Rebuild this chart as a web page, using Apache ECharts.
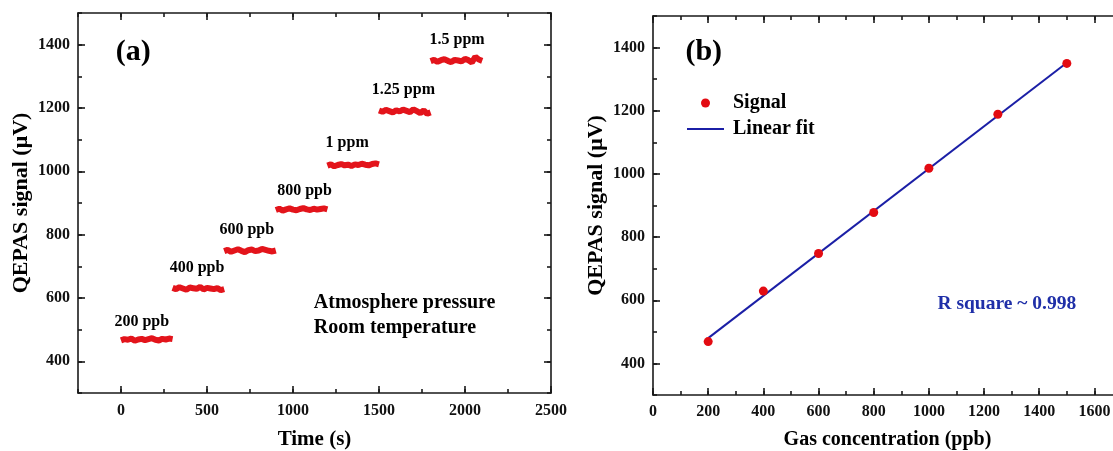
<!DOCTYPE html>
<html>
<head>
<meta charset="utf-8">
<script src="https://cdn.jsdelivr.net/npm/echarts@6/dist/echarts.min.js"></script>
<style>
html,body{margin:0;padding:0;background:#fff;}
#c{width:1113px;height:451px;}
</style>
</head>
<body>
<div id="c"></div>
<script>
// ---------- data ----------
const segStarts = [0, 300, 600, 900, 1200, 1500, 1800];
const sampleOffsets = [0, 20, 40, 60, 80, 100, 120, 140, 160, 180, 200, 220, 240, 260, 280, 300];
const seg200ppb = [466, 470, 468, 472, 465, 469, 471, 467, 470, 473, 468, 466, 471, 469, 472, 470];
const seg400ppb = [632, 628, 634, 630, 626, 633, 631, 629, 635, 627, 632, 630, 628, 631, 625, 628];
const seg600ppb = [748, 752, 746, 750, 754, 749, 745, 751, 753, 748, 750, 755, 752, 749, 747, 750];
const seg800ppb = [878, 882, 876, 880, 883, 879, 877, 881, 884, 880, 878, 882, 879, 881, 883, 880];
const seg1ppm   = [1018, 1022, 1016, 1020, 1023, 1019, 1021, 1017, 1022, 1020, 1024, 1021, 1019, 1023, 1025, 1022];
const seg125ppm = [1192, 1188, 1194, 1190, 1186, 1193, 1189, 1195, 1191, 1187, 1196, 1190, 1184, 1192, 1182, 1186];
const seg15ppm  = [1348, 1352, 1346, 1351, 1354, 1349, 1345, 1352, 1350, 1347, 1355, 1351, 1344, 1362, 1353, 1349];
const segValues = [seg200ppb, seg400ppb, seg600ppb, seg800ppb, seg1ppm, seg125ppm, seg15ppm];

const stepLabels = [[121, 526, '200 ppb'], [442, 694, '400 ppb'], [731, 815, '600 ppb'], [1067, 939, '800 ppb'],
                    [1315, 1089, '1 ppm'], [1642, 1258, '1.25 ppm'], [1954, 1414, '1.5 ppm']];
const condLabels = [[1121, 584, 'Atmosphere pressure'], [1121, 507, 'Room temperature']];

const concentration = [200, 400, 600, 800, 1000, 1250, 1500];
const signal = [469, 629, 748, 878, 1018, 1189, 1350];
const fitConc = [200, 1500];
const fitSignal = [480, 1352];

const xTicksA = [0, 500, 1000, 1500, 2000, 2500];
const yTicks = [400, 600, 800, 1000, 1200, 1400];
const xTicksB = [0, 200, 400, 600, 800, 1000, 1200, 1400, 1600];

// ---------- build ----------
const FONT = 'Liberation Serif';
const dark = '#1a1a1a';

const traceData = [];
segStarts.forEach((s, k) => {
  sampleOffsets.forEach((o, i) => traceData.push([s + o, segValues[k][i]]));
  traceData.push([s + 300, null]);
});

function axes(dim, grid, min, max, majors, minorInt, opts) {
  const posA = dim === 'x' ? 'bottom' : 'left';
  const posB = dim === 'x' ? 'top' : 'right';
  const ls = {color: dark, width: 1.6};
  const base = {type: 'value', gridIndex: grid, min: min, max: max, splitLine: {show: false}};
  return [
    Object.assign({}, base, {
      position: posA,
      name: opts.name, nameLocation: 'middle', nameGap: opts.nameGap,
      nameTextStyle: {fontFamily: FONT, fontWeight: 'bold', fontSize: opts.nameSize, color: '#000'},
      axisLine: {show: true, onZero: false, lineStyle: ls},
      axisTick: {show: true, inside: true, length: 7, customValues: majors, lineStyle: ls},
      axisLabel: {show: true, customValues: majors, margin: opts.labelMargin, formatter: v => String(v),
        fontFamily: FONT, fontWeight: 'bold', fontSize: 16, color: '#111'}
    }),
    Object.assign({}, base, {
      position: posA, interval: minorInt,
      axisLine: {show: false, onZero: false}, axisTick: {show: true, inside: true, length: 4, lineStyle: ls},
      axisLabel: {show: false}
    }),
    Object.assign({}, base, {
      position: posB,
      axisLine: {show: true, onZero: false, lineStyle: ls},
      axisTick: {show: true, inside: true, length: 7, customValues: majors, lineStyle: ls},
      axisLabel: {show: false, customValues: majors}
    }),
    Object.assign({}, base, {
      position: posB, interval: minorInt,
      axisLine: {show: false, onZero: false}, axisTick: {show: true, inside: true, length: 4, lineStyle: ls},
      axisLabel: {show: false}
    })
  ];
}

const xA = axes('x', 0, -250, 2500, xTicksA, 250, {name: 'Time (s)', nameGap: 36, nameSize: 21, labelMargin: 10});
const yA = axes('y', 0, 300, 1500, yTicks, 100, {name: 'QEPAS signal (\u03bcV)', nameGap: 46, nameSize: 22, labelMargin: 8});
const xB = axes('x', 1, 0, 1700, xTicksB, 100, {name: 'Gas concentration (ppb)', nameGap: 35, nameSize: 20, labelMargin: 9});
const yB = axes('y', 1, 300, 1500, yTicks, 100, {name: 'QEPAS signal (\u03bcV)', nameGap: 46, nameSize: 22, labelMargin: 8});

const textSeries = (xi, yi, data, style) => ({
  type: 'scatter', xAxisIndex: xi, yAxisIndex: yi, data: data, symbolSize: 0, silent: true,
  itemStyle: {opacity: 1},
  label: Object.assign({show: true, position: 'inside', formatter: p => p.value[2],
    fontFamily: FONT, fontWeight: 'bold', color: '#000'}, style)
});

const chart = echarts.init(document.getElementById('c'), null, {renderer: 'canvas'});
chart.setOption({
  animation: false,
  backgroundColor: '#fff',
  grid: [
    {left: 78, top: 13, width: 473, height: 380, outerBoundsMode: 'none', containLabel: false},
    {left: 653, top: 16, width: 469, height: 379, outerBoundsMode: 'none', containLabel: false}
  ],
  xAxis: xA.concat(xB),
  yAxis: yA.concat(yB),
  legend: {
    data: [{name: 'Signal'}, {name: 'Linear fit', itemStyle: {opacity: 0}}],
    orient: 'vertical', left: 686, top: 90, padding: 0,
    itemWidth: 37, itemHeight: 9, itemGap: 0,
    textStyle: {fontFamily: FONT, fontWeight: 'bold', fontSize: 20, lineHeight: 26, color: '#000', padding: [0, 0, 0, 4]}
  },
  series: [
    {
      name: 'trace', type: 'line', xAxisIndex: 0, yAxisIndex: 0, data: traceData,
      showSymbol: false, connectNulls: false, lineStyle: {color: '#e3141b', width: 6}, silent: true
    },
    textSeries(0, 0, stepLabels, {fontSize: 16}),
    textSeries(0, 0, condLabels, {fontSize: 20, align: 'left', position: 'right', distance: 0}),
    textSeries(0, 0, [[71, 1376, '(a)']], {fontSize: 30}),
    {
      name: 'Linear fit', type: 'line', xAxisIndex: 4, yAxisIndex: 4,
      data: fitConc.map((c, i) => [c, fitSignal[i]]),
      showSymbol: false, symbol: 'none', lineStyle: {color: '#1b1fa6', width: 2}, itemStyle: {color: '#1b1fa6'}
    },
    {
      name: 'Signal', type: 'scatter', xAxisIndex: 4, yAxisIndex: 4,
      data: concentration.map((c, i) => [c, signal[i]]),
      symbol: 'circle', symbolSize: 9, itemStyle: {color: '#e30b12', opacity: 1}, z: 5
    },
    textSeries(4, 4, [[184, 1385, '(b)']], {fontSize: 30}),
    textSeries(4, 4, [[1031, 587, 'R square ~ 0.998']], {fontSize: 19.5, color: '#1f2fa8', position: 'right', distance: 0})
  ]
});
</script>
</body>
</html>
